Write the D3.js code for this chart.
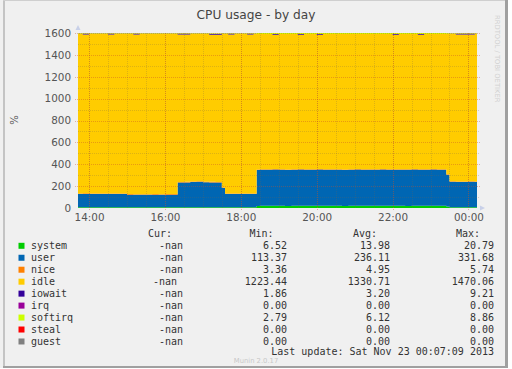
<!DOCTYPE html>
<html>
<head>
<meta charset="utf-8">
<script src="https://cdn.jsdelivr.net/npm/d3@7"></script>
<style>
body{margin:0;background:#fff}
svg{display:block}
text{font-family:"DejaVu Sans",sans-serif}
.mono{font-family:"DejaVu Sans Mono",monospace;font-size:10px;fill:#333;white-space:pre}
</style>
</head>
<body>
<script>
// samples (time of day), 10 min steps with a few 5 min ones round the jumps
const times=["13:40","13:50","14:00","14:10","14:20","14:30","14:40","14:50","15:00","15:10","15:20","15:30","15:40","15:50",
"16:00","16:10","16:20","16:30","16:40","16:50","17:00","17:10","17:20","17:30","17:35","17:40","17:50",
"18:00","18:10","18:20","18:25","18:30","18:40","18:50","19:00","19:10","19:20","19:30","19:40","19:50",
"20:00","20:10","20:20","20:30","20:40","20:50","21:00","21:10","21:20","21:30","21:40","21:50",
"22:00","22:10","22:20","22:30","22:40","22:50","23:00","23:10","23:20","23:25","23:30","23:40","23:50",
"00:00","00:10","00:20"]
const system=[7,7,7,7,7,7,7,7,7,7,7,7,7,7,
7,7,7,7,7,7,7,7,7,7,7,7,7,
7,7,7,19,20,20,20,20,19,20,20,20,20,
21,20,20,20,19,20,20,20,20,20,20,20,
20,20,19,20,20,20,20,20,20,14,7,7,7,
7,7,7]
const user=[121,122,121,120,121,121,120,121,115,114,114,114,115,114,
115,115,226,227,230,232,228,227,226,175,121,120,120,
121,120,121,329,330,329,331,330,328,330,331,329,330,
331,330,329,330,328,330,331,330,329,330,331,330,
329,330,330,331,329,330,331,330,329,290,233,230,231,
232,230,230]
const nice=[5,5,5,5,5,5,5,5,5,5,5,5,5,5,
5,5,5,5,5,5,5,5,5,5,5,5,5,
5,5,5,5,5,5,5,5,5,5,5,5,5,
5,5,5,5,5,5,5,5,5,5,5,5,
5,5,5,5,5,5,5,5,5,5,5,5,5,
5,5,5]
const idle=[1461,1453,1461,1462,1461,1454,1462,1461,1467,1461,1468,1468,1467,1468,
1467,1467,1348,1347,1351,1349,1353,1345,1346,1407,1461,1455,1462,
1461,1455,1461,1237,1235,1236,1227,1235,1238,1235,1227,1236,1235,
1226,1235,1236,1235,1238,1235,1234,1235,1236,1235,1234,1235,
1229,1235,1236,1234,1229,1235,1234,1235,1236,1283,1348,1344,1343,
1342,1351,1351]
const iowait=[2,9,2,2,2,9,2,2,2,9,2,2,2,2,
2,2,9,9,2,2,2,9,9,2,2,9,2,
2,9,2,2,2,2,9,2,2,2,9,2,2,
9,2,2,2,2,2,2,2,2,2,2,2,
9,2,2,2,9,2,2,2,2,2,2,9,9,
9,2,2]
const irq=times.map(()=>0)
const softirq=[4,4,4,4,4,4,4,4,4,4,4,4,4,4,
4,4,5,5,5,5,5,5,5,4,4,4,4,
4,4,4,8,8,8,8,8,8,8,8,8,8,
8,8,8,8,8,8,8,8,8,8,8,8,
8,8,8,8,8,8,8,8,8,6,5,5,5,
5,5,5]
const steal=times.map(()=>0)
const guest=times.map(()=>0)

const yTicks=[0,200,400,600,800,1000,1200,1400,1600]

const names=["system","user","nice","idle","iowait","irq","softirq","steal","guest"]
const colors=["#00cc00","#0066b3","#ff8000","#ffcc00","#330099","#990099","#ccff00","#ff0000","#808080"]
const curVals=["-nan","-nan","-nan","-nan ","-nan","-nan","-nan","-nan","-nan"]
const minVals=["6.52","113.37","3.36","1223.44","1.86","0.00","2.79","0.00","0.00"]
const avgVals=["13.98","236.11","4.95","1330.71","3.20","0.00","6.12","0.00","0.00"]
const maxVals=["20.79","331.68","5.74","1470.06","9.21","0.00","8.86","0.00","0.00"]

const cols={system,user,nice,idle,iowait,irq,softirq,steal,guest}
const parseT=s=>{const [h,m]=s.split(":").map(Number);return new Date(2013,10,h<12?23:22,h,m)}
const rows=times.map((t,i)=>{const r={t:parseT(t)};names.forEach(n=>r[n]=cols[n][i]);return r})

const W=512,H=369
const pL=78,pR=477,pT=33,pB=208

const svg=d3.select("body").append("svg").attr("width",W).attr("height",H)

// frame
svg.append("rect").attr("x",0).attr("y",0).attr("width",508).attr("height",368).attr("fill","#f0f0f0")
svg.append("rect").attr("x",3).attr("y",0).attr("width",2).attr("height",368).attr("fill","#c4c4c4")
svg.append("rect").attr("x",3).attr("y",0).attr("width",505).attr("height",1).attr("fill","#cfcfcf")
svg.append("rect").attr("x",505).attr("y",0).attr("width",3).attr("height",368).attr("fill","#a0a0a0")
svg.append("rect").attr("x",3).attr("y",366).attr("width",505).attr("height",2).attr("fill","#a0a0a0")

const x=d3.scaleTime()
  .domain([new Date(2013,10,22,13,42,30),new Date(2013,10,23,0,13,30)])
  .range([pL,pR])
const y=d3.scaleLinear().domain([0,1600]).range([pB,pT])

svg.append("clipPath").attr("id","clip").append("rect")
  .attr("x",pL).attr("y",pT-5).attr("width",pR-pL).attr("height",pB-pT+5)

const stack=d3.stack().keys(names)
const series=stack(rows)
const area=d3.area().curve(d3.curveStepAfter)
  .x(d=>x(d.data.t)).y0(d=>y(d[0])).y1(d=>y(d[1]))

svg.append("g").attr("clip-path","url(#clip)")
  .selectAll("path").data(series).join("path")
  .attr("d",area).attr("fill",(d,i)=>colors[i])

// grid
const g=svg.append("g")
const minorT=x.ticks(d3.timeMinute.every(30))
g.selectAll(".vmin").data(minorT).join("line")
  .attr("x1",d=>Math.round(x(d))+0.5).attr("x2",d=>Math.round(x(d))+0.5)
  .attr("y1",pT).attr("y2",pB)
  .attr("stroke","rgba(120,100,70,0.25)").attr("stroke-dasharray","1,1")
const yMinor=d3.range(100,1600,200)
g.selectAll(".hmin").data(yMinor).join("line")
  .attr("x1",pL).attr("x2",pR+2)
  .attr("y1",d=>Math.round(y(d))+0.5).attr("y2",d=>Math.round(y(d))+0.5)
  .attr("stroke","rgba(120,100,70,0.25)").attr("stroke-dasharray","1,1")
const majorT=x.ticks(d3.timeHour.every(2))
g.selectAll(".vmaj").data(majorT).join("line")
  .attr("x1",d=>Math.round(x(d))+0.5).attr("x2",d=>Math.round(x(d))+0.5)
  .attr("y1",pT).attr("y2",pB+3)
  .attr("stroke","rgba(200,80,40,0.4)").attr("stroke-dasharray","1,1")
g.selectAll(".hmaj").data(yTicks.slice(1)).join("line")
  .attr("x1",pL-3).attr("x2",pR+3)
  .attr("y1",d=>Math.round(y(d))+0.5).attr("y2",d=>Math.round(y(d))+0.5)
  .attr("stroke","rgba(200,80,40,0.4)").attr("stroke-dasharray","1,1")

// arrows
svg.append("path").attr("d",`M${pL-2.5},${pT-3}L${pL},${pT-8}L${pL+2.5},${pT-3}Z`).attr("fill","#c8d0e8")
svg.append("path").attr("d",`M${pR+3},${pB-2.5}L${pR+8},${pB}L${pR+3},${pB+2.5}Z`).attr("fill","#c8d0e8")

// axes
const xAxis=d3.axisBottom(x).tickValues(majorT).tickFormat(d3.timeFormat("%H:%M")).tickSize(0).tickPadding(6)
const xa=svg.append("g").attr("transform",`translate(0,${pB})`).call(xAxis)
const yAxis=d3.axisLeft(y).tickValues(yTicks).tickFormat(d3.format("d")).tickSize(0).tickPadding(7)
const ya=svg.append("g").attr("transform",`translate(${pL},0)`).call(yAxis)
;[xa,ya].forEach(a=>{
  a.select(".domain").remove()
  a.selectAll("text").attr("fill","#555").style("font-size","10.4px").style("font-family","DejaVu Sans")
})

svg.append("text").attr("x",256).attr("y",19).attr("text-anchor","middle")
  .attr("fill","#444").style("font-size","12.2px").text("CPU usage - by day")
svg.append("text").attr("transform","translate(18,120) rotate(-90)").attr("text-anchor","middle")
  .attr("fill","#555").style("font-size","10px").text("%")
svg.append("text").attr("transform","translate(495,15) rotate(90)")
  .attr("fill","#d0d0d0").style("font-size","6.8px").text("RRDTOOL / TOBI OETIKER")

// legend
const lg=svg.append("g")
const hy=236.7
;[["Cur:",172],["Min:",273.5],["Avg:",377],["Max:",480]].forEach(h=>{
  lg.append("text").attr("class","mono").attr("x",h[1]).attr("y",hy).attr("text-anchor","end").text(h[0])
})
const ry=i=>249.3+i*11.96
names.forEach((n,i)=>{
  lg.append("rect").attr("x",18.5).attr("y",ry(i)-6.5).attr("width",6).attr("height",6).attr("fill",colors[i])
  lg.append("text").attr("class","mono").attr("x",31).attr("y",ry(i)).text(n)
  lg.append("text").attr("class","mono").attr("x",183).attr("y",ry(i)).attr("text-anchor","end").text(curVals[i])
  lg.append("text").attr("class","mono").attr("x",287).attr("y",ry(i)).attr("text-anchor","end").text(minVals[i])
  lg.append("text").attr("class","mono").attr("x",390).attr("y",ry(i)).attr("text-anchor","end").text(avgVals[i])
  lg.append("text").attr("class","mono").attr("x",494).attr("y",ry(i)).attr("text-anchor","end").text(maxVals[i])
})
lg.append("text").attr("class","mono").attr("x",494).attr("y",355.3).attr("text-anchor","end")
  .text("Last update: Sat Nov 23 00:07:09 2013")
svg.append("text").attr("x",256).attr("y",363).attr("text-anchor","middle")
  .attr("fill","#c8c8c8").style("font-size","6.8px").text("Munin 2.0.17")
</script>
</body>
</html>
